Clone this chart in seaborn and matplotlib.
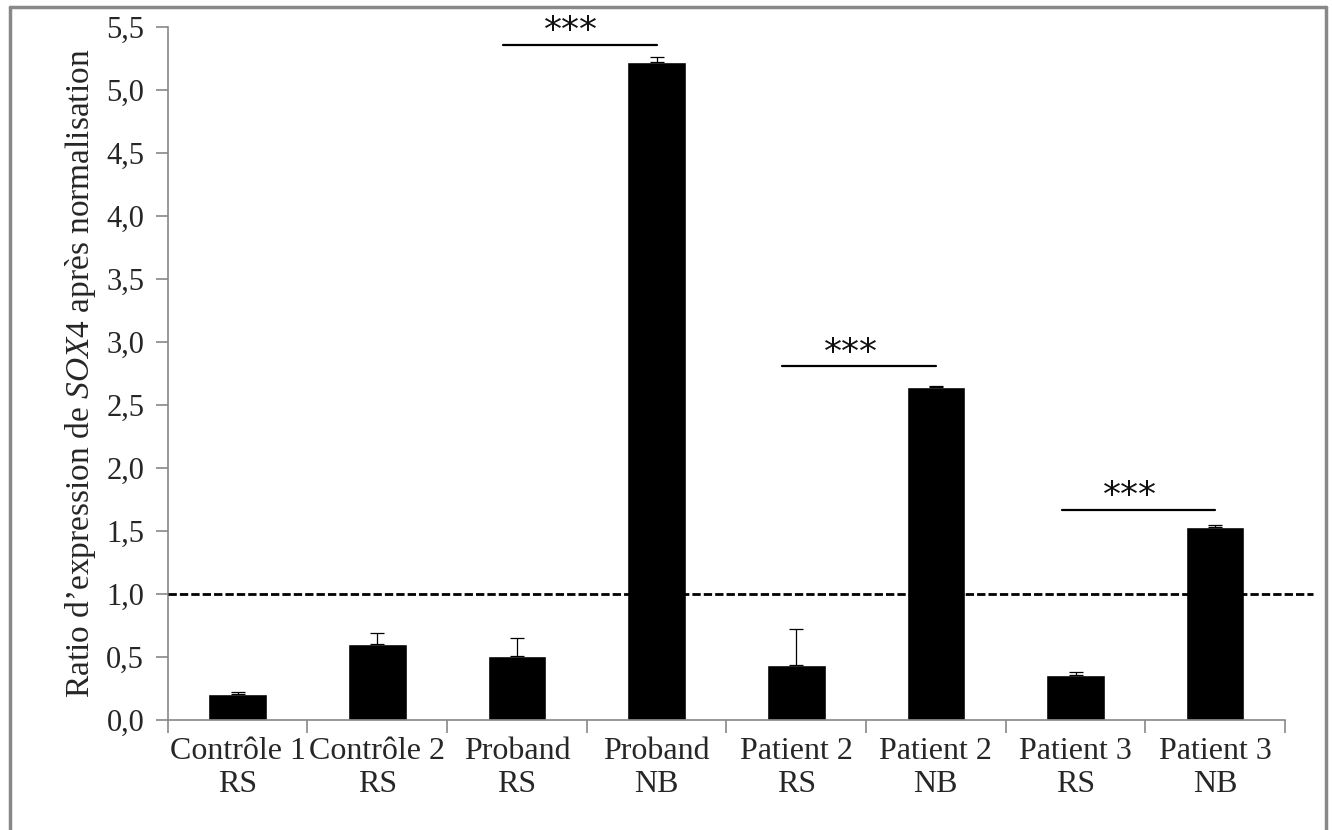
import numpy as np
import pandas as pd
import seaborn as sns
import matplotlib.pyplot as plt
from matplotlib.lines import Line2D

# values
labels = ["Contrôle 1\nRS", "Contrôle 2\nRS", "Proband\nRS", "Proband\nNB",
          "Patient 2\nRS", "Patient 2\nNB", "Patient 3\nRS", "Patient 3\nNB"]
ratios = [0.21, 0.60, 0.51, 5.22, 0.44, 2.64, 0.36, 1.53]
errors = [0.01, 0.09, 0.14, 0.04, 0.28, 0.01, 0.02, 0.02]

# significance brackets: pair start index, pair end index, height
sig_start = [2, 4, 6]
sig_end = [3, 5, 7]
sig_height = [5.36, 2.81, 1.67]

yticks = np.arange(0, 5.51, 0.5)

sns.set_theme(style="white")
plt.rcParams["font.family"] = ["Liberation Serif", "DejaVu Serif"]
plt.rcParams["mathtext.fontset"] = "custom"
plt.rcParams["mathtext.rm"] = "Liberation Serif"
plt.rcParams["mathtext.it"] = "Liberation Serif:italic"

df = pd.DataFrame({"group": labels, "ratio": ratios})

fig = plt.figure(figsize=(13.32, 8.3), dpi=100)
ax = fig.add_axes([0.126, 0.1325, 0.8387, 0.835])

sns.barplot(data=df, x="group", y="ratio", color="black", saturation=1,
            width=0.42, errorbar=None, ax=ax)
x = np.arange(len(labels))
ax.errorbar(x, ratios, yerr=[np.zeros(len(errors)), errors], fmt="none",
            ecolor="black", elinewidth=0.9, capsize=4.7, capthick=0.9)

# reference line at ratio 1
ax.axhline(1.0, xmin=0, xmax=1.025, color="black", lw=2,
           dashes=(3, 1.1), clip_on=False, zorder=3)

for s, e, h in zip(sig_start, sig_end, sig_height):
    ax.plot([s - 0.1, e], [h, h], color="black", lw=1.6)
    ax.text((s - 0.1 + e) / 2 - 0.06, h - 0.03, "***", ha="center",
            va="bottom", fontsize=26, family="DejaVu Sans", color="#111111")

ax.set_xlim(-0.5, len(labels) - 0.5)
ax.set_ylim(0, 5.5)
ax.set_yticks(yticks)
ax.set_yticklabels([f"{v:.1f}".replace(".", ",") for v in yticks], fontsize=22)
ax.set_xticks(x)
ax.set_xticklabels(labels, fontsize=23, linespacing=1.2)
ax.set_xticks(np.arange(-0.5, len(labels)), minor=True)
ax.tick_params(axis="x", which="major", length=0, pad=12)
ax.tick_params(axis="x", which="minor", length=9, width=1.2, color="#888888",
               direction="out", bottom=True)
ax.tick_params(axis="y", length=9, width=1.2, color="#888888",
               direction="out", left=True, pad=8)
ax.set_xlabel("")
ax.set_ylabel("Ratio d’expression de $\\mathit{SOX4}$ après normalisation",
              fontsize=24, labelpad=6)

sns.despine(ax=ax)
for side in ["left", "bottom"]:
    ax.spines[side].set_color("#888888")
    ax.spines[side].set_linewidth(1.2)

# gray frame around the picture (no bottom edge visible)
frame = dict(color="#888888", lw=2.5, transform=fig.transFigure)
l, r, t = 10 / 1332, 1326 / 1332, 1 - 7 / 830
fig.add_artist(Line2D([l, l], [0, t], **frame))
fig.add_artist(Line2D([l, r], [t, t], **frame))
fig.add_artist(Line2D([r, r], [0, t], **frame))

plt.savefig("out.png", dpi=100)
plt.close()
